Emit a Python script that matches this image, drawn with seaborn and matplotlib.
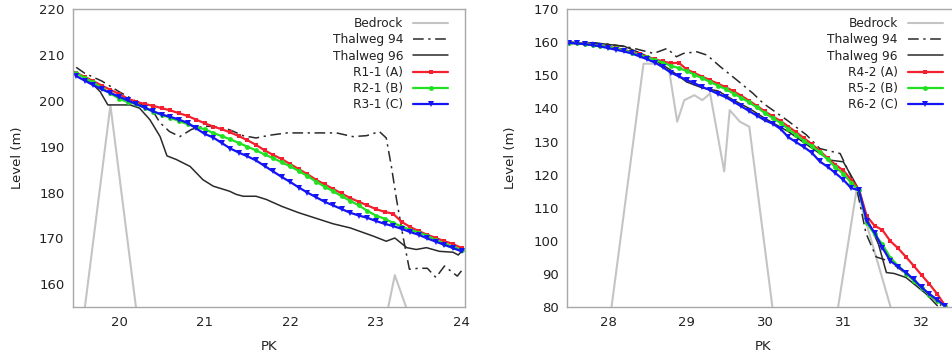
import numpy as np
import pandas as pd
import matplotlib
matplotlib.use("Agg")
import matplotlib.pyplot as plt
import seaborn as sns

# ---------------- Left panel data (PK 19.5 - 24.0) ----------------
pk_left = [19.5, 19.6, 19.7, 19.8, 19.9, 20.0, 20.1, 20.2, 20.3, 20.4,
           20.5, 20.6, 20.7, 20.8, 20.9, 21.0, 21.1, 21.2, 21.3, 21.4,
           21.5, 21.6, 21.7, 21.8, 21.9, 22.0, 22.1, 22.2, 22.3, 22.4,
           22.5, 22.6, 22.7, 22.8, 22.9, 23.0, 23.1, 23.2, 23.3, 23.4,
           23.5, 23.6, 23.7, 23.8, 23.9, 24.0]
r1_1 = [206.1, 205.2, 204.3, 203.3, 202.4, 201.5, 200.5, 199.8, 199.3, 198.9,
        198.4, 197.9, 197.3, 196.7, 195.9, 195.1, 194.4, 193.8, 193.1, 192.3,
        191.4, 190.4, 189.2, 188.2, 187.3, 186.2, 185.1, 184.0, 182.8, 181.8,
        180.8, 179.8, 178.8, 178.0, 177.2, 176.4, 175.8, 175.4, 173.6, 172.5,
        171.6, 170.8, 170.1, 169.4, 168.8, 167.9]
r2_1 = [206.0, 205.0, 204.0, 202.8, 201.6, 200.5, 199.7, 199.3, 198.5, 197.6,
        196.9, 196.3, 195.6, 194.9, 194.3, 193.8, 193.0, 192.3, 191.6, 190.8,
        190.0, 189.2, 188.3, 187.5, 186.6, 185.7, 184.7, 183.6, 182.4, 181.3,
        180.3, 179.2, 178.2, 177.2, 176.0, 175.0, 174.3, 173.4, 172.6, 171.9,
        171.3, 170.6, 169.6, 168.9, 168.2, 167.5]
r3_1 = [205.4, 204.4, 203.4, 202.5, 201.7, 200.9, 200.1, 199.3, 198.5, 197.7,
        197.0, 196.5, 195.9, 195.2, 194.0, 192.8, 192.0, 190.8, 189.6, 188.7,
        187.9, 187.0, 185.8, 184.6, 183.4, 182.3, 181.1, 180.0, 179.0, 178.0,
        177.2, 176.4, 175.6, 175.0, 174.5, 173.8, 173.2, 172.7, 172.1, 171.4,
        170.8, 170.0, 169.3, 168.6, 167.9, 167.2]

t96_left_pk = [19.5, 19.6, 19.7, 19.78, 19.87, 20.0, 20.13, 20.24, 20.36, 20.48,
               20.56, 20.67, 20.83, 20.98, 21.1, 21.29, 21.37, 21.45, 21.6, 21.72,
               21.9, 22.1, 22.3, 22.5, 22.7, 22.97, 23.12, 23.22, 23.36, 23.47,
               23.59, 23.74, 23.9, 23.96, 24.0]
t96_left = [206.3, 205.0, 203.5, 202.0, 199.1, 199.1, 199.1, 198.4, 195.9, 192.2,
            188.0, 187.2, 185.7, 182.8, 181.4, 180.3, 179.6, 179.2, 179.2, 178.5,
            177.0, 175.6, 174.4, 173.2, 172.3, 170.5, 169.4, 170.1, 168.0, 167.6,
            168.0, 167.2, 167.0, 166.4, 167.2]

t94_left_pk = [19.5, 19.6, 19.8, 20.0, 20.2, 20.4, 20.48, 20.59, 20.71, 20.85,
               21.0, 21.15, 21.29, 21.45, 21.6, 21.76, 21.96, 22.23, 22.54, 22.73,
               22.89, 23.04, 23.12, 23.18, 23.24, 23.32, 23.39, 23.5, 23.6, 23.7,
               23.8, 23.9, 23.95, 24.0]
t94_left = [207.3, 206.0, 204.3, 202.0, 199.9, 197.6, 195.2, 193.3, 192.2, 193.8,
            194.5, 194.3, 193.7, 192.4, 191.9, 192.5, 193.0, 193.0, 193.0, 192.2,
            192.4, 193.3, 191.9, 185.7, 178.5, 170.0, 163.3, 163.5, 163.5, 161.5,
            164.0, 162.5, 161.8, 163.0]

bed_left_pk = [19.5, 19.9, 20.3, 21.0, 22.0, 23.0, 23.22, 23.6, 24.0]
bed_left = [140.0, 199.0, 140.0, 135.0, 140.0, 142.0, 162.0, 142.0, 140.0]

# ---------------- Right panel data (PK 27.5 - 32.3) ----------------
pk_right = [27.5, 27.6, 27.7, 27.8, 27.9, 28.0, 28.1, 28.2, 28.3, 28.4,
            28.5, 28.6, 28.7, 28.8, 28.9, 29.0, 29.1, 29.2, 29.3, 29.4,
            29.5, 29.6, 29.7, 29.8, 29.9, 30.0, 30.1, 30.2, 30.3, 30.4,
            30.5, 30.6, 30.7, 30.8, 30.9, 31.0, 31.1, 31.2, 31.3, 31.4,
            31.5, 31.6, 31.7, 31.8, 31.9, 32.0, 32.1, 32.2, 32.3]
r4_2 = [159.8, 159.6, 159.4, 159.2, 158.9, 158.6, 158.2, 157.7, 157.0, 156.3,
        155.6, 154.8, 154.2, 153.6, 153.8, 151.8, 150.7, 149.6, 148.5, 147.5,
        146.4, 145.2, 143.8, 142.3, 140.7, 139.1, 137.6, 136.2, 134.5, 132.8,
        131.0, 129.2, 127.2, 125.0, 123.0, 121.3, 118.5, 115.6, 107.5, 104.6,
        103.3, 100.0, 97.8, 95.2, 92.5, 89.7, 87.0, 84.0, 80.5]
r5_2 = [159.8, 159.6, 159.4, 159.2, 158.9, 158.5, 158.1, 157.5, 156.8, 156.1,
        155.4, 154.6, 153.8, 152.9, 152.2, 151.3, 150.2, 149.1, 148.0, 146.9,
        145.8, 144.5, 143.2, 141.8, 140.3, 138.6, 137.1, 135.6, 133.8, 132.0,
        130.2, 128.6, 126.8, 124.6, 122.3, 120.3, 117.6, 115.3, 105.5, 102.0,
        99.0, 95.0, 92.5, 90.2, 88.0, 85.8, 83.8, 82.0, 80.3]
r6_2 = [159.8, 159.6, 159.4, 159.1, 158.7, 158.2, 157.7, 157.2, 156.6, 155.7,
        154.8, 153.8, 152.4, 150.8, 149.7, 148.6, 147.6, 146.5, 145.5, 144.4,
        143.4, 142.0, 140.6, 139.2, 137.8, 136.4, 135.4, 133.8, 131.3, 129.8,
        128.3, 126.6, 124.0, 122.4, 120.5, 118.5, 116.0, 115.3, 106.0, 102.5,
        98.0, 94.0, 92.3, 90.5, 88.4, 86.0, 84.0, 82.3, 80.3]

t96_right_pk = [27.5, 27.7, 27.8, 28.0, 28.2, 28.4, 28.6, 28.8, 29.0, 29.2,
                29.4, 29.6, 29.8, 30.0, 30.3, 30.6, 30.83, 31.0, 31.12, 31.2,
                31.3, 31.45, 31.55, 31.65, 31.8, 32.06, 32.2]
t96_right = [160.0, 159.6, 159.9, 159.3, 158.8, 156.8, 154.6, 151.5, 148.0, 146.2,
             145.3, 142.5, 140.0, 137.0, 133.0, 128.0, 124.4, 123.9, 118.9, 115.5,
             107.0, 99.0, 90.5, 90.2, 89.0, 84.0, 80.5]

t94_right_pk = [27.5, 28.0, 28.3, 28.58, 28.75, 28.87, 28.96, 29.13, 29.26, 29.43,
                29.64, 29.85, 29.98, 30.28, 30.53, 30.7, 30.96, 31.04, 31.17, 31.29,
                31.42, 31.55, 31.7, 32.0, 32.25]
t94_right = [160.0, 159.4, 158.3, 156.6, 158.1, 155.6, 156.6, 157.1, 156.1, 152.6,
             148.6, 144.5, 141.5, 136.5, 132.0, 127.9, 126.4, 122.4, 116.0, 102.3,
             95.2, 94.2, 92.0, 86.0, 80.5]

bed_right_pk = [27.5, 27.93, 28.45, 28.65, 28.78, 28.88, 28.97, 29.1, 29.2, 29.3,
                29.48, 29.55, 29.68, 29.8, 30.15, 30.8, 31.17, 31.85, 32.5]
bed_right = [60.0, 60.0, 153.5, 153.5, 151.0, 136.0, 142.5, 144.0, 142.5, 144.5,
             121.0, 139.5, 136.0, 134.5, 70.0, 60.0, 115.5, 60.0, 60.0]

# ---------------- Styling ----------------
sns.set_theme(style="white")
plt.rcParams["font.family"] = ["DejaVu Sans"]

RED = "#f42030"
GREEN = "#20e020"
BLUE = "#1414f5"
DARK = "#2a2a2a"
GREY = "#c4c4c4"
TXT = "#222222"

fig = plt.figure(figsize=(9.52, 3.58), dpi=100)
ax1 = fig.add_axes([0.0764, 0.1416, 0.4121, 0.8332])
ax2 = fig.add_axes([0.5959, 0.1416, 0.4121, 0.8332])


def draw(ax, bed_x, bed_y, t94_x, t94_y, t96_x, t96_y, px, ra, rb, rc, names):
    sns.lineplot(x=bed_x, y=bed_y, ax=ax, color=GREY, lw=1.5, label="Bedrock")
    sns.lineplot(x=t94_x, y=t94_y, ax=ax, color=DARK, lw=1.1,
                 dashes=False, label="Thalweg 94")
    ax.lines[-1].set_dashes([7, 3, 1.5, 3])
    sns.lineplot(x=t96_x, y=t96_y, ax=ax, color=DARK, lw=1.1, label="Thalweg 96")
    sns.lineplot(x=px, y=ra, ax=ax, color=RED, lw=1.6, marker="s", markersize=3.5,
                 markeredgewidth=0, label=names[0])
    sns.lineplot(x=px, y=rb, ax=ax, color=GREEN, lw=1.6, marker="o", markersize=3.5,
                 markeredgewidth=0, label=names[1])
    sns.lineplot(x=px, y=rc, ax=ax, color=BLUE, lw=1.6, marker="v", markersize=5,
                 markeredgewidth=0, label=names[2])
    for s in ax.spines.values():
        s.set_color("#a8a8a8")
        s.set_linewidth(1.0)
    ax.tick_params(axis="both", length=0, labelsize=9.5, colors=TXT, pad=6)
    ax.set_xlabel("PK", fontsize=9.5, color=TXT)
    ax.set_ylabel("Level (m)", fontsize=9.5, color=TXT)
    ax.xaxis.set_label_coords(0.5, -0.11)
    leg = ax.legend(loc="upper right", bbox_to_anchor=(0.969, 0.989), borderaxespad=0,
                    frameon=False, markerfirst=False, fontsize=8.7,
                    handlelength=2.9, handletextpad=0.8, labelspacing=0.27,
                    borderpad=0.4)
    for t in leg.get_texts():
        t.set_color(TXT)
    return leg


draw(ax1, bed_left_pk, bed_left, t94_left_pk, t94_left, t96_left_pk, t96_left,
     pk_left, r1_1, r2_1, r3_1, ["R1-1 (A)", "R2-1 (B)", "R3-1 (C)"])
ax1.set_xlim(19.46, 24.04)
ax1.set_ylim(155, 220)
ax1.set_xticks([20, 21, 22, 23, 24])
ax1.set_yticks([160, 170, 180, 190, 200, 210, 220])
ax1.yaxis.set_label_coords(-0.125, 0.5)

draw(ax2, bed_right_pk, bed_right, t94_right_pk, t94_right, t96_right_pk, t96_right,
     pk_right, r4_2, r5_2, r6_2, ["R4-2 (A)", "R5-2 (B)", "R6-2 (C)"])
ax2.set_xlim(27.477, 32.485)
ax2.set_ylim(80, 170)
ax2.set_xticks([28, 29, 30, 31, 32])
ax2.set_yticks([80, 90, 100, 110, 120, 130, 140, 150, 160, 170])
ax2.yaxis.set_label_coords(-0.128, 0.5)

fig.savefig("out.png", dpi=100)
